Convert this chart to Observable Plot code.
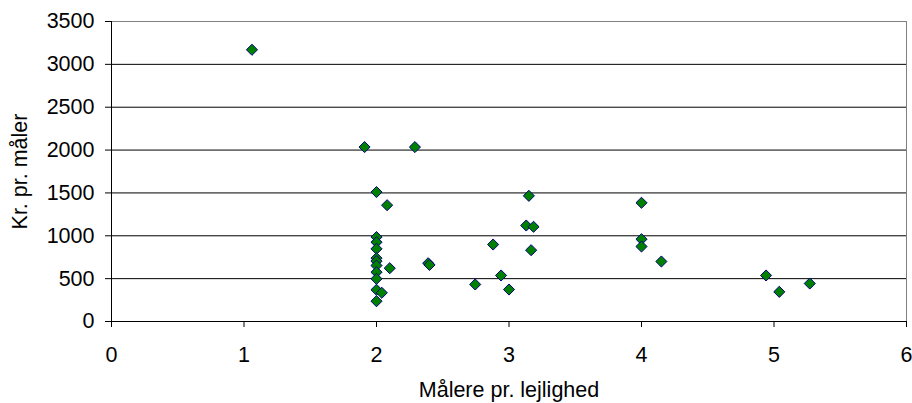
<!DOCTYPE html>
<html>
<head>
<meta charset="utf-8">
<script src="https://cdn.jsdelivr.net/npm/d3@7"></script>
<script src="https://cdn.jsdelivr.net/npm/@observablehq/plot@0.6"></script>
<style>
  html, body { margin: 0; padding: 0; background: #fff; }
  svg { display: block; }
</style>
</head>
<body>
<div id="chart"></div>
<script>
// Data
const maalerePrLejlighed = [1.06, 1.91, 2.29, 2.0, 2.08, 2.0, 2.0, 2.0, 2.0, 2.0, 2.0, 2.1, 2.39, 2.4, 2.0, 2.0, 2.0, 2.04, 2.0, 2.745, 2.88, 2.94, 3.0, 3.15, 3.13, 3.185, 3.167, 4.0, 4.0, 4.0, 4.15, 4.94, 5.04, 5.27];
const krPrMaaler = [3170, 2035, 2035, 1510, 1357, 985, 925, 848, 739, 704, 653, 622, 680, 660, 575, 498, 370, 335, 237, 432, 898, 537, 373, 1466, 1120, 1105, 832, 1385, 960, 875, 700, 537, 346, 443];
const xTicks = [0, 1, 2, 3, 4, 5, 6];
const yTicks = [0, 500, 1000, 1500, 2000, 2500, 3000, 3500];
const gridValues = [500, 1000, 1500, 2000, 2500, 3000];
const xLabel = "Målere pr. lejlighed";
const yLabel = "Kr. pr. måler";

const points = maalerePrLejlighed.map((x, i) => ({x, y: krPrMaaler[i]}));
const fmt = d => String(d);

const chart = Plot.plot({
  width: 912,
  height: 403,
  marginLeft: 111,
  marginRight: 6,
  marginTop: 21,
  marginBottom: 82,
  style: {fontFamily: "'Liberation Sans', Arial, sans-serif", fontSize: "21.5px", color: "#000", background: "#fff"},
  x: {domain: [0, 6], label: null},
  y: {domain: [0, 3500], label: null},
  marks: [
    Plot.frame({stroke: "#808080"}),
    Plot.ruleY(gridValues, {stroke: "#000", strokeWidth: 1}),
    Plot.ruleX([0], {stroke: "#000"}),
    Plot.ruleY([0], {stroke: "#000"}),
    Plot.axisX({ticks: xTicks, tickFormat: fmt, tickSize: 6, tickPadding: 19, label: null, stroke: "#000", strokeOpacity: 1, fontSize: 21.5}),
    Plot.axisY({ticks: yTicks, tickFormat: fmt, tickSize: 6, tickPadding: 11, label: null, stroke: "#000", strokeOpacity: 1, fontSize: 21.5}),
    Plot.dot(points, {x: "x", y: "y", symbol: "diamond2", r: 5, fill: "#008000", stroke: "#000080", strokeWidth: 1}),
    Plot.text([xLabel], {frameAnchor: "bottom", dy: 69, textAnchor: "middle", lineAnchor: "middle", fontSize: 21.5, fill: "#000"}),
    Plot.text([yLabel], {frameAnchor: "left", dx: -91, rotate: -90, textAnchor: "middle", lineAnchor: "middle", fontSize: 21.5, fill: "#000"})
  ]
});
document.getElementById("chart").appendChild(chart);
</script>
</body>
</html>
